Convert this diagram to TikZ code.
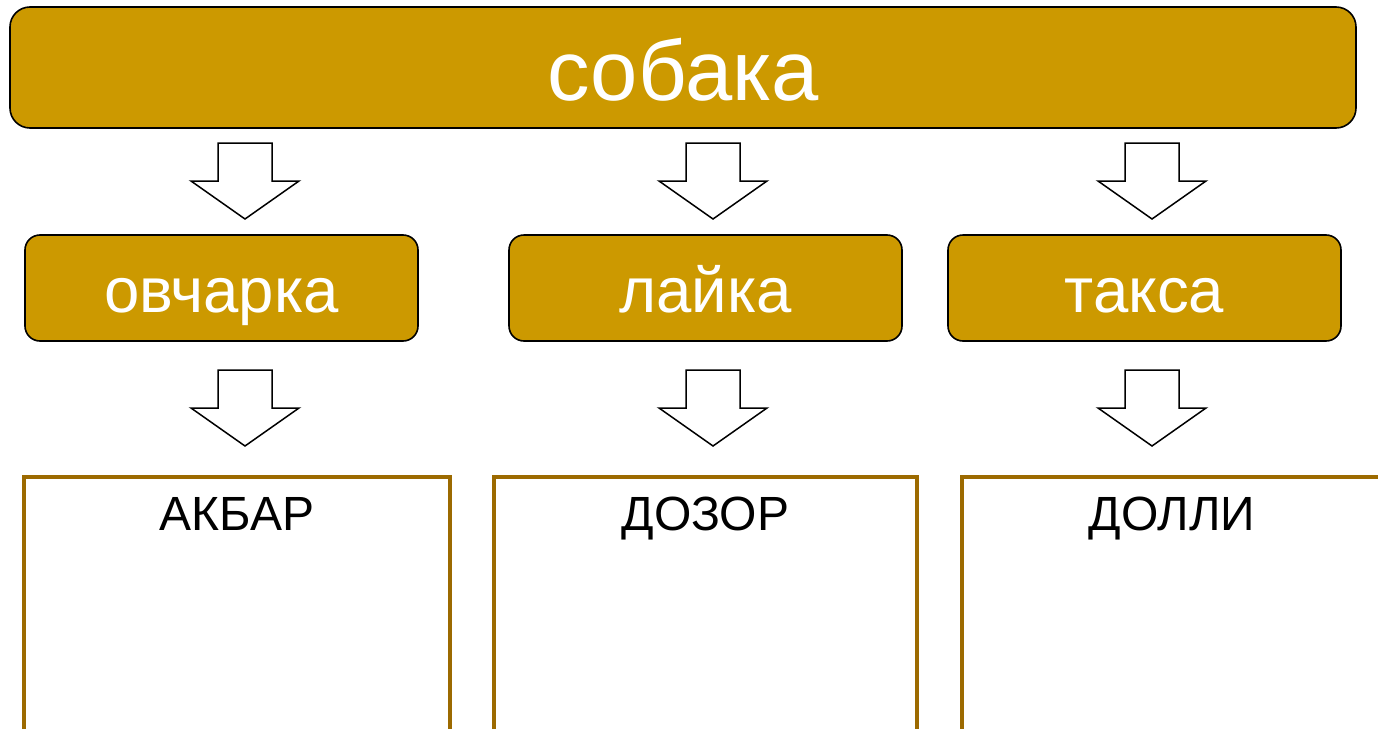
\documentclass[tikz,border=0pt]{standalone}
\usepackage{fontspec}
\setmainfont{Liberation Sans}
\definecolor{gold}{HTML}{CC9900}
\definecolor{brownline}{HTML}{9C6A00}
\tikzset{
  topbox/.style={draw=black, line width=1.6pt, fill=gold, rounded corners=20pt, text=white, font=\fontsize{85}{100}\selectfont, inner sep=0pt, text height=65pt, text depth=0pt},
  midbox/.style={draw=black, line width=1.6pt, fill=gold, rounded corners=15pt, text=white, font=\fontsize{63.5}{76}\selectfont, minimum width=393pt, minimum height=106pt, inner sep=0pt, text height=48pt, text depth=0pt},
  namebox/.style={draw=brownline, line width=4pt, fill=white, minimum width=423pt, minimum height=290pt, inner sep=0pt, anchor=north},
  nametext/.style={font=\fontsize{48}{58}\selectfont, text=black, anchor=base, inner sep=0pt},
  arrowline/.style={draw=black, line width=1.5pt, fill=white, line join=miter},
  blockarrow/.pic={\path[arrowline] (-27,0) -- (27,0) -- (27,38) -- (54,38) -- (0,76) -- (-54,38) -- (-27,38) -- cycle;}
}
\begin{document}
\begin{tikzpicture}[x=1pt,y=-1pt]
\useasboundingbox (0,0) rectangle (1378,728);
\clip (0,0) rectangle (1378,728);
\node[topbox, minimum width=1346pt, minimum height=121pt] (dog) at (683,67.5) {собака};
\node[midbox] (m1) at (221.5,288) {овчарка};
\node[midbox] (m2) at (705.5,288) {лайка};
\node[midbox] (m3) at (1144.5,288) {такса};
\pic (a1) at (245,143) {blockarrow};
\pic (a2) at (713,143) {blockarrow};
\pic (a3) at (1152,143) {blockarrow};
\pic (b1) at (245,370) {blockarrow};
\pic (b2) at (713,370) {blockarrow};
\pic (b3) at (1152,370) {blockarrow};
\node[namebox, minimum width=426pt] (n1) at (237,475) {};
\node[namebox] (n2) at (705.5,475) {};
\node[namebox, minimum width=426pt] (n3) at (1175,475) {};
\node[nametext] (t1) at (237,530) {АКБАР};
\node[nametext] (t2) at (705.5,530) {ДОЗОР};
\node[nametext] (t3) at (1172,530) {ДОЛЛИ};
\end{tikzpicture}
\end{document}
